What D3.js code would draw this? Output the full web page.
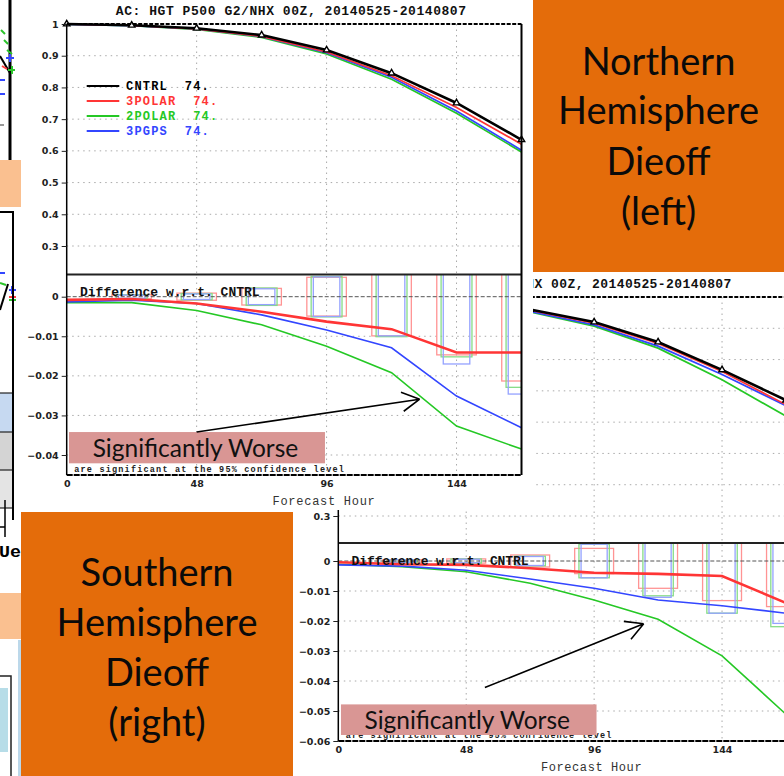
<!DOCTYPE html>
<html>
<head>
<meta charset="utf-8">
<script src="https://cdn.jsdelivr.net/npm/d3@7"></script>
<style>
  body { margin: 0; background: #fff; }
  svg { display: block; }
</style>
</head>
<body>
<svg id="slide" width="784" height="776"></svg>
<script>
// ---- data ----
const hours = [0, 24, 48, 72, 96, 120, 144, 168];
const xTicks = [0, 48, 96, 144];
const acTicks = [1, 0.9, 0.8, 0.7, 0.6, 0.5, 0.4, 0.3];
const nhDiffTicks = [0, -0.01, -0.02, -0.03, -0.04];
const shDiffTicks = [0, -0.01, -0.02, -0.03, -0.04, -0.05, -0.06];
const expNames = ["CNTRL", "3POLAR", "2POLAR", "3PGPS"];
const expCounts = ["74.", "74.", "74.", "74."];

// northern hemisphere, anomaly correlation
const nhCntrl  = [1.000, 0.996, 0.9865, 0.965, 0.918, 0.845, 0.751, 0.635];
const nh3polar = [0.9992, 0.9954, 0.9848, 0.9612, 0.9117, 0.8368, 0.7369, 0.6209];
const nh2polar = [0.9985, 0.9945, 0.9830, 0.9579, 0.9055, 0.8258, 0.7183, 0.5965];
const nh3pgps  = [0.9987, 0.9951, 0.9848, 0.9604, 0.9096, 0.8321, 0.7259, 0.6019];
// northern hemisphere, difference w.r.t. CNTRL
const nhDiff3polar = [-0.0008, -0.0006, -0.0017, -0.0038, -0.0063, -0.0082, -0.0141, -0.0141];
const nhDiff2polar = [-0.0015, -0.0015, -0.0035, -0.0071, -0.0125, -0.0192, -0.0327, -0.0385];
const nhDiff3pgps  = [-0.0013, -0.0009, -0.0017, -0.0046, -0.0084, -0.0129, -0.0251, -0.0331];
// half height of the 95% significance boxes
const nhSig3polar = [0, 0.0005, 0.0009, 0.0021, 0.0049, 0.0099, 0.0147, 0.0213];
const nhSig2polar = [0, 0.0005, 0.0008, 0.0022, 0.0051, 0.0101, 0.0152, 0.0229];
const nhSig3pgps  = [0, 0.0004, 0.0007, 0.0020, 0.0050, 0.0099, 0.0170, 0.0246];

// southern hemisphere
const shCntrl  = [1.000, 0.996, 0.985, 0.960, 0.920, 0.856, 0.767, 0.670];
const sh3polar = [0.9996, 0.9949, 0.9837, 0.9576, 0.9161, 0.8517, 0.7620, 0.6560];
const sh2polar = [0.9989, 0.9941, 0.9814, 0.9526, 0.9070, 0.8366, 0.7354, 0.6189];
const sh3pgps  = [0.9987, 0.9943, 0.9819, 0.9540, 0.9109, 0.8430, 0.7521, 0.6526];
const shDiff3polar = [-0.0004, -0.0011, -0.0013, -0.0024, -0.0039, -0.0043, -0.0050, -0.0140];
const shDiff2polar = [-0.0011, -0.0019, -0.0036, -0.0074, -0.0130, -0.0194, -0.0316, -0.0511];
const shDiff3pgps  = [-0.0013, -0.0017, -0.0031, -0.0060, -0.0091, -0.0130, -0.0149, -0.0174];
const shSig3polar = [0, 0.0004, 0.0007, 0.0020, 0.0042, 0.0091, 0.0132, 0.0152];
const shSig2polar = [0, 0.0004, 0.0007, 0.0016, 0.0056, 0.0116, 0.0174, 0.0219];
const shSig3pgps  = [0, 0.0004, 0.0006, 0.0015, 0.0056, 0.0121, 0.0174, 0.0208];

// ---- styles ----
const expColors = ["#000000", "#ff3535", "#25c825", "#3346ff"];
const boxColors = [null, "#ff9494", "#86dc86", "#94a2ff"];
const boxHalfHours = [0, 7.3, 5.7, 4.9];
const orange = "#e46c0a";
const peach = "#fac090";
const pink = "#d99694";
const labelFont = "'DejaVu Sans', sans-serif";
const monoFont = "'Liberation Mono', 'DejaVu Sans Mono', monospace";
const slideFont = "Lato, 'Open Sans', sans-serif";

const svg = d3.select("#slide");

function drawBackdrop() {
  // bits of the slide lying underneath, along the left edge
  const g = svg.append("g");
  g.append("line").attr("x1", 10).attr("y1", 0).attr("x2", 10).attr("y2", 160)
    .attr("stroke", "#000").attr("stroke-width", 3);
  const marks = [
    ["#2bc42b", [[1, 30], [5, 34]]], ["#2bc42b", [[4, 40], [8, 44]]], ["#2bc42b", [[7, 50], [12, 54]]],
    ["#000", [[0, 56], [10, 73]]], ["#ff4040", [[2, 66], [7, 69]]],
    ["#3346ff", [[6, 58], [14, 58]]], ["#3346ff", [[10, 54], [10, 62]]],
    ["#2bc42b", [[8, 70], [15, 70]]], ["#2bc42b", [[12, 66], [12, 74]]],
    ["#3346ff", [[0, 80], [5, 80]]], ["#3346ff", [[0, 94], [5, 94]]], ["#999", [[0, 125], [4, 125]]],
    ["#3346ff", [[0, 273], [5, 273]]], ["#2bc42b", [[0, 283], [6, 285]]], ["#000", [[0, 310], [8, 284]]],
    ["#3346ff", [[9, 290], [16, 290]]], ["#3346ff", [[12, 286], [12, 294]]],
    ["#ff4040", [[9, 297], [16, 297]]], ["#2bc42b", [[9, 300], [16, 300]]]
  ];
  marks.forEach(([c, pts]) => {
    g.append("path").attr("d", d3.line()(pts)).attr("stroke", c).attr("stroke-width", 2).attr("fill", "none");
  });
  g.append("rect").attr("x", 0).attr("y", 160).attr("width", 21).attr("height", 47).attr("fill", peach);
  g.append("rect").attr("x", 0).attr("y", 393).attr("width", 12).attr("height", 39).attr("fill", "#c6d9f1");
  g.append("rect").attr("x", 0).attr("y", 432).attr("width", 12).attr("height", 38).attr("fill", "#d4d4d4");
  g.append("rect").attr("x", 0).attr("y", 470).attr("width", 12).attr("height", 38).attr("fill", "#e4e4e4");
  [393, 432, 470, 508].forEach(y => {
    g.append("line").attr("x1", 0).attr("x2", 12).attr("y1", y).attr("y2", y).attr("stroke", "#222").attr("stroke-width", 1.2);
  });
  g.append("path").attr("d", "M0,212H13V520").attr("fill", "none").attr("stroke", "#000").attr("stroke-width", 2);
  g.append("path").attr("d", "M0,527H5V500M5,537V527").attr("fill", "none").attr("stroke", "#000").attr("stroke-width", 1.5);
  g.append("text").attr("x", -1).attr("y", 557).text("Ue")
    .attr("font-family", monoFont).attr("font-weight", "bold").attr("font-size", 16)
    .attr("textLength", 22).attr("lengthAdjust", "spacingAndGlyphs");
  g.append("rect").attr("x", 0).attr("y", 593).attr("width", 21).attr("height", 46).attr("fill", peach);
  g.append("rect").attr("x", 18).attr("y", 640).attr("width", 3).attr("height", 136).attr("fill", "#bcd8ea");
  g.append("path").attr("d", "M0,676H11V776").attr("fill", "none").attr("stroke", "#222").attr("stroke-width", 1.5);
  g.append("rect").attr("x", 0).attr("y", 688).attr("width", 8).attr("height", 64).attr("fill", "#b7dde8");
}

function drawArrow(g, [ax, ay], [bx, by]) {
  const ang = Math.atan2(by - ay, bx - ax);
  const len = 20, spread = 0.5;
  const p = d3.path();
  p.moveTo(ax, ay);
  p.lineTo(bx, by);
  [-1, 1].forEach(s => {
    p.moveTo(bx, by);
    p.lineTo(bx - len * Math.cos(ang + s * spread), by - len * Math.sin(ang + s * spread));
  });
  g.append("path").attr("d", p.toString()).attr("fill", "none")
    .attr("stroke", "#000").attr("stroke-width", 1.6);
}

function drawDieoff(cfg) {
  const g = svg.append("g");
  const [bx, by, bw, bh] = cfg.bg;
  g.append("rect").attr("x", bx).attr("y", by).attr("width", bw).attr("height", bh).attr("fill", "#fff");

  const x = d3.scaleLinear().domain([0, 168]).range([cfg.x0, cfg.x1]);
  const yAc = d3.scaleLinear().domain([0.3, 1]).range([cfg.ac03Y, cfg.ac1Y]);
  const yDiff = d3.scaleLinear().domain([cfg.diffMin, 0]).range([cfg.diffMinY, cfg.diffZeroY]);
  const w = cfg.x1 - cfg.x0;

  // title
  g.append("text").attr("x", cfg.x0 + 0.108 * w).attr("y", cfg.titleY).text(cfg.title)
    .attr("font-family", monoFont).attr("font-weight", "bold").attr("font-size", 13)
    .attr("textLength", 0.77 * w).attr("lengthAdjust", "spacing").attr("fill", "#111");

  // dotted grid
  const grid = g.append("g").attr("stroke", "#aaa").attr("stroke-width", 1).attr("stroke-dasharray", "1.5,4");
  acTicks.filter(d => d < 1).forEach(d => {
    grid.append("line").attr("x1", cfg.x0).attr("x2", cfg.x1).attr("y1", yAc(d)).attr("y2", yAc(d));
  });
  cfg.diffTicks.filter(d => d < 0).forEach(d => {
    grid.append("line").attr("x1", cfg.x0).attr("x2", cfg.x1).attr("y1", yDiff(d)).attr("y2", yDiff(d));
  });
  xTicks.filter(d => d > 0).forEach(d => {
    grid.append("line").attr("x1", x(d)).attr("x2", x(d)).attr("y1", cfg.ac1Y).attr("y2", cfg.bottomY);
  });

  // upper panel: anomaly correlation
  const acLine = d3.line().x((d, i) => x(hours[i])).y(d => yAc(d));
  [2, 3, 1, 0].forEach(k => {
    g.append("path").attr("d", acLine(cfg.ac[k])).attr("fill", "none")
      .attr("stroke", expColors[k]).attr("stroke-width", k === 0 ? 2.6 : 1.7);
  });
  g.append("g").selectAll("path").data(cfg.ac[0]).join("path")
    .attr("transform", (d, i) => `translate(${x(hours[i])},${yAc(d)})`)
    .attr("d", d3.symbol(d3.symbolTriangle, 18))
    .attr("fill", "#fff").attr("stroke", "#000").attr("stroke-width", 1.4);

  // legend (the southern one lies under the northern plot)
  if (cfg.showLegend) {
    const legend = g.append("g");
    expNames.forEach((name, k) => {
      const ly = cfg.ac1Y + 62 + 15 * k;
      legend.append("line").attr("x1", cfg.x0 + 20).attr("x2", cfg.x0 + 52.6).attr("y1", ly).attr("y2", ly)
        .attr("stroke", expColors[k]).attr("stroke-width", 2);
      legend.append("text").attr("x", cfg.x0 + 59.3).attr("y", ly + 4).text(`${name}  ${expCounts[k]}`)
        .style("white-space", "pre")
        .attr("font-family", monoFont).attr("font-weight", "bold").attr("font-size", 12)
        .attr("letter-spacing", 1.2).attr("fill", expColors[k]);
    });
  }

  // lower panel: differences and significance boxes
  const clipId = cfg.id + "-clip";
  g.append("clipPath").attr("id", clipId).append("rect")
    .attr("x", cfg.x0).attr("y", cfg.sepY).attr("width", w).attr("height", cfg.bottomY - cfg.sepY);
  const lower = g.append("g").attr("clip-path", `url(#${clipId})`);
  [1, 2, 3].forEach(k => {
    lower.append("g").selectAll("rect").data(cfg.sig[k].filter(s => s > 0).map((s, j) => ({ s, h: hours[j + 1] })))
      .join("rect")
      .attr("x", d => x(d.h - boxHalfHours[k])).attr("width", d => x(d.h + boxHalfHours[k]) - x(d.h - boxHalfHours[k]))
      .attr("y", d => yDiff(d.s)).attr("height", d => yDiff(-d.s) - yDiff(d.s))
      .attr("fill", "none").attr("stroke", boxColors[k]).attr("stroke-width", 1.3);
  });
  lower.append("line").attr("x1", cfg.x0).attr("x2", cfg.x1).attr("y1", yDiff(0)).attr("y2", yDiff(0))
    .attr("stroke", "#555").attr("stroke-dasharray", "4,2").attr("stroke-width", 1);
  const diffLine = d3.line().x((d, i) => x(hours[i])).y(d => yDiff(d));
  [2, 3, 1].forEach(k => {
    lower.append("path").attr("d", diffLine(cfg.diff[k])).attr("fill", "none")
      .attr("stroke", expColors[k]).attr("stroke-width", k === 1 ? 2.6 : 1.6);
  });

  g.append("text").attr("x", cfg.x0 + 13.3).attr("y", cfg.sepY + 21.5).text("Difference w.r.t. CNTRL")
    .attr("font-family", monoFont).attr("font-weight", "bold").attr("font-size", 13)
    .attr("textLength", 0.395 * w).attr("lengthAdjust", "spacing").attr("fill", "#111");
  g.append("text").attr("x", cfg.x0 + 7.5).attr("y", cfg.bottomY - 3.5)
    .text("are significant at the 95% confidence level")
    .attr("font-family", monoFont).attr("font-weight", "bold").attr("font-size", 8.5)
    .attr("textLength", 0.593 * w).attr("lengthAdjust", "spacing").attr("fill", "#222");

  // frame
  const frame = g.append("g").attr("fill", "none").attr("stroke", "#000");
  frame.append("line").attr("x1", cfg.x0).attr("x2", cfg.x1).attr("y1", cfg.ac1Y).attr("y2", cfg.ac1Y)
    .attr("stroke-width", 2).attr("stroke-dasharray", "4,1.5");
  frame.append("line").attr("x1", cfg.x0).attr("x2", cfg.x1).attr("y1", cfg.sepY).attr("y2", cfg.sepY)
    .attr("stroke-width", 2).attr("stroke", "#222");
  frame.append("line").attr("x1", cfg.x0).attr("x2", cfg.x1).attr("y1", cfg.bottomY).attr("y2", cfg.bottomY)
    .attr("stroke-width", 2).attr("stroke-dasharray", "6,1");
  frame.append("line").attr("x1", cfg.x0).attr("x2", cfg.x0).attr("y1", cfg.ac1Y).attr("y2", cfg.bottomY)
    .attr("stroke-width", 1.5);
  frame.append("line").attr("x1", cfg.x1).attr("x2", cfg.x1).attr("y1", cfg.ac1Y).attr("y2", cfg.bottomY)
    .attr("stroke-width", 2);

  // axes
  const styleAxis = a => {
    a.select(".domain").remove();
    a.selectAll("text").attr("font-family", labelFont).attr("font-weight", "bold")
      .attr("font-size", 9.5).attr("fill", "#222");
    a.selectAll("line").attr("stroke", "#222");
  };
  g.append("g").attr("transform", `translate(${cfg.x0},0)`)
    .call(d3.axisLeft(yAc).tickValues(cfg.acLabelTicks).tickSize(5).tickPadding(3)
      .tickFormat(d => d === 1 ? "1" : d3.format(".1f")(d)))
    .call(styleAxis);
  g.append("g").attr("transform", `translate(${cfg.x0},0)`)
    .call(d3.axisLeft(yDiff).tickValues(cfg.diffTicks).tickSize(5).tickPadding(3)
      .tickFormat(d => d === 0 ? "0" : d3.format(".2f")(d)))
    .call(styleAxis);
  g.append("g").attr("transform", `translate(0,${cfg.bottomY})`)
    .call(d3.axisBottom(x).tickValues(xTicks).tickSize(0).tickPadding(5.5))
    .call(styleAxis);
  g.append("text").attr("x", cfg.x0 + 0.565 * w).attr("y", cfg.bottomY + 30).text("Forecast Hour")
    .attr("text-anchor", "middle").attr("font-family", monoFont).attr("font-size", 12)
    .attr("textLength", 0.225 * w).attr("lengthAdjust", "spacing").attr("fill", "#333");

  // "Significantly Worse" call-out
  const [h0, h1, d0, d1] = cfg.note.box;
  g.append("rect").attr("x", x(h0)).attr("y", yDiff(d0)).attr("width", x(h1) - x(h0)).attr("height", yDiff(d1) - yDiff(d0))
    .attr("fill", pink);
  g.append("text").attr("x", (x(h0) + x(h1)) / 2 - 1.5).attr("y", yDiff(d1) - 6.5).text("Significantly Worse")
    .attr("text-anchor", "middle").attr("font-family", slideFont).attr("font-size", 24.5).attr("fill", "#111");
  drawArrow(g, [x(cfg.note.from[0]), yDiff(cfg.note.from[1])], [x(cfg.note.to[0]), yDiff(cfg.note.to[1])]);
}

function drawLabelBox(rect, lines, baselines) {
  const g = svg.append("g");
  g.append("rect").attr("x", rect[0]).attr("y", rect[1]).attr("width", rect[2]).attr("height", rect[3]).attr("fill", orange);
  lines.forEach((t, i) => {
    g.append("text").attr("x", rect[0] + rect[2] / 2).attr("y", baselines[i]).text(t)
      .attr("text-anchor", "middle").attr("font-family", slideFont).attr("font-size", 38).attr("fill", "#0a0a0a");
  });
}

drawBackdrop();

drawDieoff({
  id: "sh", bg: [290, 272, 494, 504],
  title: "AC: HGT P500 G2/SHX 00Z, 20140525-20140807", titleY: 288,
  x0: 338.3, x1: 786, ac1Y: 297, ac03Y: 516, sepY: 543,
  diffZeroY: 561, diffMin: -0.06, diffMinY: 741, bottomY: 741, diffTicks: shDiffTicks,
  acLabelTicks: [0.3], showLegend: false,
  ac: [shCntrl, sh3polar, sh2polar, sh3pgps],
  diff: [null, shDiff3polar, shDiff2polar, shDiff3pgps],
  sig: [null, shSig3polar, shSig2polar, shSig3pgps],
  note: { box: [1.0, 96.9, -0.0478, -0.0580], from: [55, -0.0422], to: [114.6, -0.0209] }
});

drawDieoff({
  id: "nh", bg: [21, 0, 512, 510],
  title: "AC: HGT P500 G2/NHX 00Z, 20140525-20140807", titleY: 15,
  x0: 66.7, x1: 521.5, ac1Y: 24, ac03Y: 246, sepY: 274.5,
  diffZeroY: 296.7, diffMin: -0.04, diffMinY: 455, bottomY: 475, diffTicks: nhDiffTicks,
  acLabelTicks: acTicks, showLegend: true,
  ac: [nhCntrl, nh3polar, nh2polar, nh3pgps],
  diff: [null, nhDiff3polar, nhDiff2polar, nhDiff3pgps],
  sig: [null, nhSig3polar, nhSig2polar, nhSig3pgps],
  note: { box: [0.85, 95.4, -0.0342, -0.0421], from: [48, -0.0342], to: [130.4, -0.0259] }
});

drawLabelBox([533, 0, 251, 272], ["Northern", "Hemisphere", "Dieoff", "(left)"], [75, 124, 175, 225]);
drawLabelBox([21, 512, 272, 264], ["Southern", "Hemisphere", "Dieoff", "(right)"], [586, 636, 686, 736]);
</script>
</body>
</html>
